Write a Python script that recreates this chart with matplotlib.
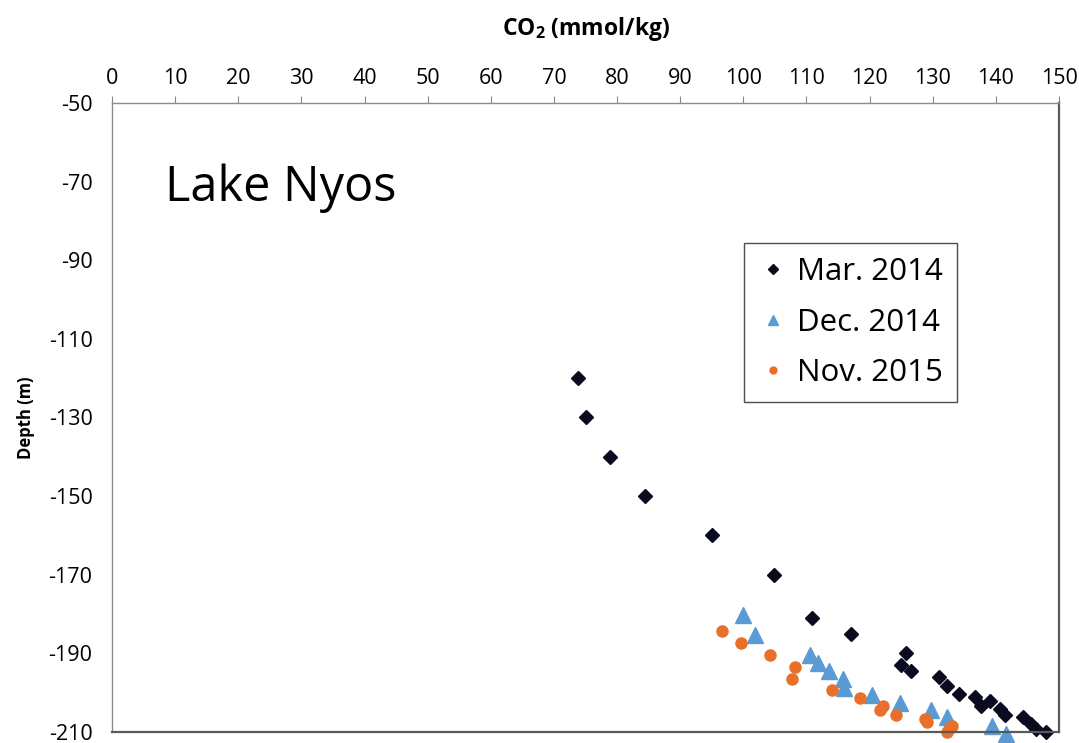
import matplotlib
matplotlib.use('Agg')
import matplotlib.pyplot as plt
import numpy as np

plt.rcParams['font.family'] = ['Open Sans', 'DejaVu Sans']
plt.rcParams['mathtext.default'] = 'regular'
plt.rcParams['axes.unicode_minus'] = False

# CO2 concentration (mmol/kg) vs depth (m), three sampling campaigns
mar2014_co2 = [73.8, 75.0, 78.9, 84.5, 95.1, 104.8, 110.9, 117.0, 125.7, 125.0,
               126.5, 131.0, 132.3, 134.1, 136.7, 137.6, 139.1, 140.7, 141.4,
               144.3, 145.5, 146.3, 147.9]
mar2014_depth = [-120, -130, -140, -150, -160, -170, -181, -185, -190, -193,
                 -194.4, -196, -198.3, -200.4, -201.2, -203.5, -202.1, -204.1,
                 -205.7, -206.3, -208, -209.3, -210]

dec2014_co2 = [100.0, 101.9, 110.6, 111.8, 113.5, 115.8, 116.0, 120.4, 124.8,
               129.7, 132.3, 139.4, 141.6]
dec2014_depth = [-180.3, -185.4, -190.5, -192.4, -194.4, -196.4, -198.7,
                 -200.5, -202.6, -204.4, -206.3, -208.5, -210.4]

nov2015_co2 = [96.6, 99.7, 104.2, 108.2, 107.7, 114.0, 118.5, 122.1, 121.7,
               124.1, 128.8, 129.1, 133.1, 132.6, 132.3]
nov2015_depth = [-184.3, -187.3, -190.3, -193.4, -196.4, -199.4, -201.3,
                 -203.5, -204.5, -205.7, -206.7, -207.5, -208.4, -209.3, -210.1]

x_ticks = np.arange(0, 151, 10)
y_ticks = np.arange(-50, -211, -20)

fig = plt.figure(figsize=(10.79, 7.43), dpi=100)
ax = fig.add_axes([0.1038, 0.0148, 0.8777, 0.8466])

ax.plot(mar2014_co2, mar2014_depth, 'D', color='#0b0b20', ms=7.5,
        label='Mar. 2014', clip_on=False)
ax.plot(dec2014_co2, dec2014_depth, '^', color='#5B9BD5', ms=12,
        label='Dec. 2014', clip_on=False)
ax.plot(nov2015_co2, nov2015_depth, 'o', color='#E8702A', ms=8,
        label='Nov. 2015', clip_on=False)

ax.set_xlim(0, 150)
ax.set_ylim(-210, -50)
ax.set_xticks(x_ticks)
ax.set_yticks(y_ticks)
ax.xaxis.tick_top()
ax.xaxis.set_label_position('top')
ax.tick_params(axis='x', length=5, color='#888888', labelsize=15.5, pad=5)
ax.tick_params(axis='y', length=0, labelsize=15.5, pad=14)

for side in ['top', 'left']:
    ax.spines[side].set_color('#8c8c8c')
    ax.spines[side].set_linewidth(1.0)
for side in ['bottom', 'right']:
    ax.spines[side].set_color('#595959')
    ax.spines[side].set_linewidth(1.6)

ax.set_xlabel('CO$_2$ (mmol/kg)', fontsize=16.5, fontweight='bold', labelpad=24)
ax.set_ylabel('Depth (m)', fontsize=12, fontweight='bold', labelpad=10)

ax.text(0.056, 0.865, 'Lake Nyos', transform=ax.transAxes, fontsize=35,
        va='center', ha='left')

leg = ax.legend(loc='upper left', bbox_to_anchor=(0.667, 0.777), fontsize=22.5,
                markerscale=0.62, frameon=True, fancybox=False,
                handletextpad=0.25, handlelength=1.0, borderpad=0.45,
                labelspacing=0.65, borderaxespad=0)
leg.get_frame().set_edgecolor('#222222')
leg.get_frame().set_linewidth(1.0)

fig.savefig('out.png', dpi=100)
